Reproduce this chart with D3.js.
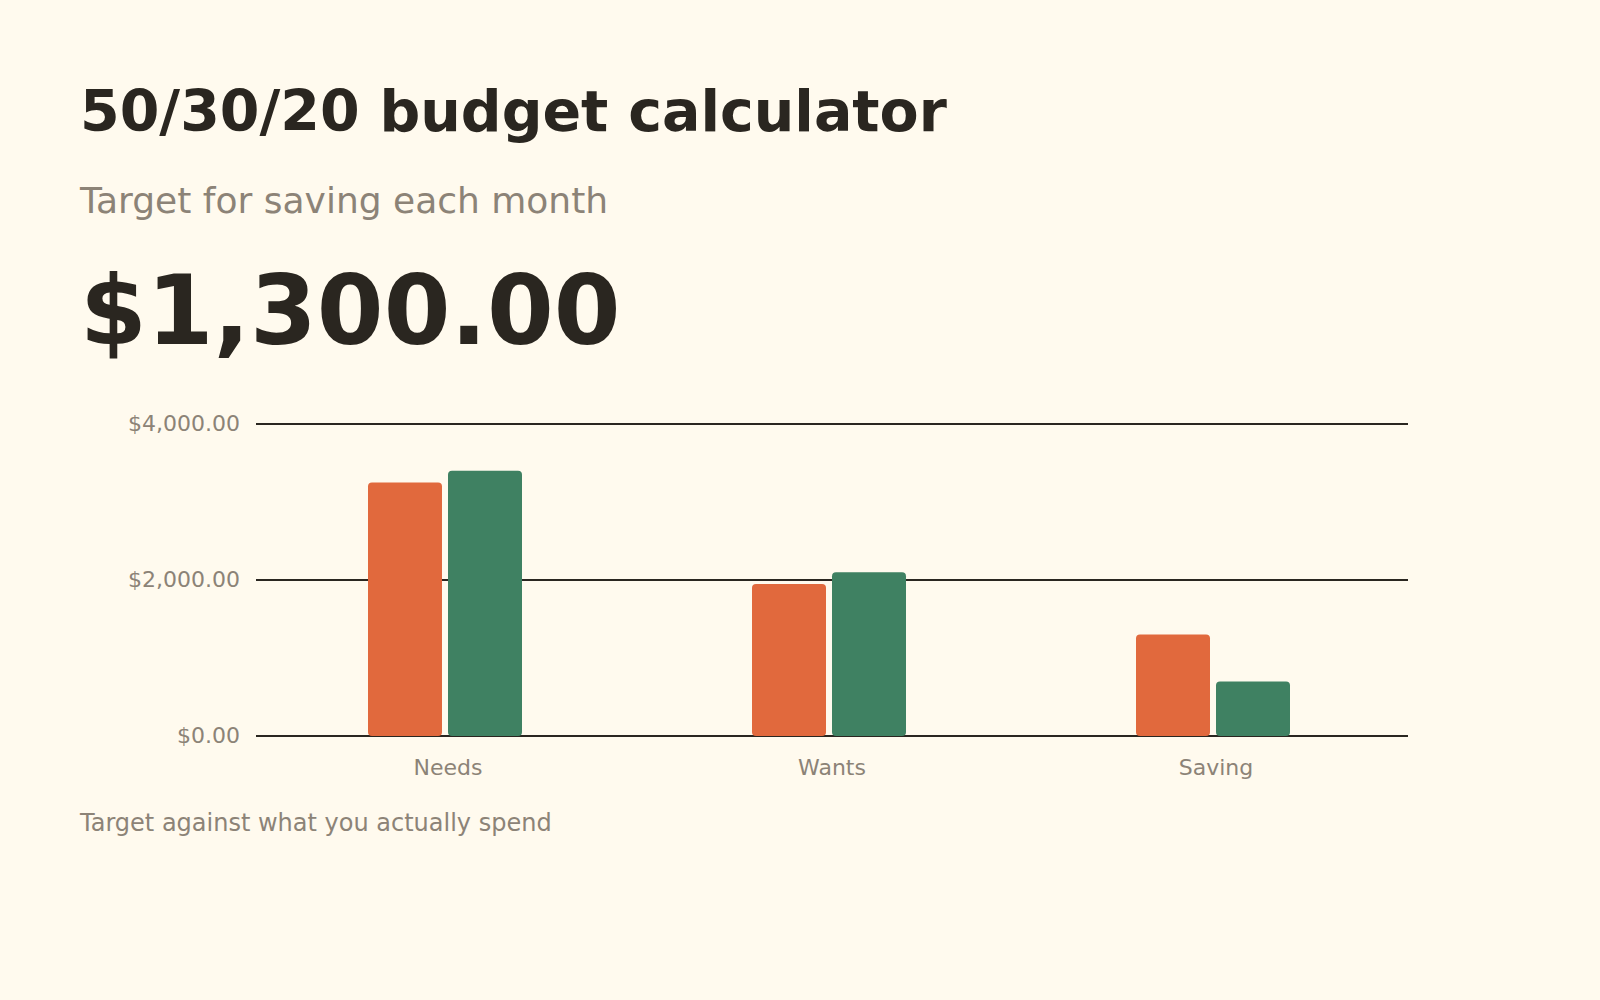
<!DOCTYPE html>
<html>
<head>
<meta charset="utf-8">
<script src="https://cdn.jsdelivr.net/npm/d3@7"></script>
<style>
  html, body { margin: 0; padding: 0; background: #FFFAEE; }
  svg { display: block; font-family: "DejaVu Sans", sans-serif; }
</style>
</head>
<body>
<svg id="chart" width="1600" height="1000"></svg>
<script>
// ---- data ----
const categories = ["Needs", "Wants", "Saving"];
const seriesNames = ["Target", "Actual"];
const targetValues = [3250, 1950, 1300];
const actualValues = [3400, 2100, 700];
const yTicks = [0, 2000, 4000];
const titleText = "50/30/20 budget calculator";
const subtitleText = "Target for saving each month";
const headlineValue = 1300;
const footerText = "Target against what you actually spend";

const colors = { Target: "#E1693D", Actual: "#3F8162" };
const dark = "#2A2620";
const grey = "#8C8377";

const rows = categories.map((c, i) => ({ category: c, Target: targetValues[i], Actual: actualValues[i] }));

const svg = d3.select("#chart");
svg.append("rect").attr("width", 1600).attr("height", 1000).attr("fill", "#FFFAEE");

const fmt = d3.format("$,.2f");

svg.append("text").attr("x", 80).attr("y", 131)
  .attr("font-size", 57).attr("font-weight", "bold").attr("fill", dark).text(titleText);
svg.append("text").attr("x", 80).attr("y", 213)
  .attr("font-size", 36).attr("fill", grey).text(subtitleText);
svg.append("text").attr("x", 80).attr("y", 344)
  .attr("font-size", 96).attr("font-weight", "bold").attr("fill", dark).text(fmt(headlineValue));

const plotLeft = 256, plotRight = 1408, plotTop = 424, plotBottom = 736;

const x0 = d3.scaleBand().domain(categories).range([plotLeft, plotRight]);
const x1 = d3.scaleBand().domain(seriesNames).range([-80, 74]).paddingInner(0.075);
const y = d3.scaleLinear().domain([0, 4000]).range([plotBottom, plotTop]);

// y axis with gridlines
const yAxis = svg.append("g").attr("transform", `translate(${plotLeft},0)`)
  .call(d3.axisLeft(y).tickValues(yTicks).tickFormat(fmt).offset(0)
    .tickSizeInner(-(plotRight - plotLeft)).tickSizeOuter(0).tickPadding(16));
yAxis.select(".domain").remove();
yAxis.selectAll(".tick line").attr("stroke", dark).attr("stroke-width", 2);
yAxis.selectAll(".tick text").attr("fill", grey).attr("font-size", 22)
  .attr("font-family", "DejaVu Sans, sans-serif");

// bars
const groups = svg.append("g").selectAll("g").data(rows).join("g")
  .attr("transform", d => `translate(${x0(d.category) + x0.bandwidth() / 2},0)`);
groups.selectAll("rect").data(d => seriesNames.map(s => ({ key: s, value: d[s] }))).join("rect")
  .attr("x", d => x1(d.key))
  .attr("width", x1.bandwidth())
  .attr("y", d => y(d.value))
  .attr("height", d => y(0) - y(d.value))
  .attr("rx", 4).attr("ry", 4)
  .attr("fill", d => colors[d.key]);

// x axis
const xAxis = svg.append("g").attr("transform", `translate(0,${plotBottom})`)
  .call(d3.axisBottom(x0).tickSize(0).tickPadding(23).offset(0));
xAxis.select(".domain").remove();
xAxis.selectAll(".tick text").attr("fill", grey).attr("font-size", 22)
  .attr("font-family", "DejaVu Sans, sans-serif");

svg.append("text").attr("x", 80).attr("y", 831)
  .attr("font-size", 24).attr("fill", grey).text(footerText);
</script>
</body>
</html>
